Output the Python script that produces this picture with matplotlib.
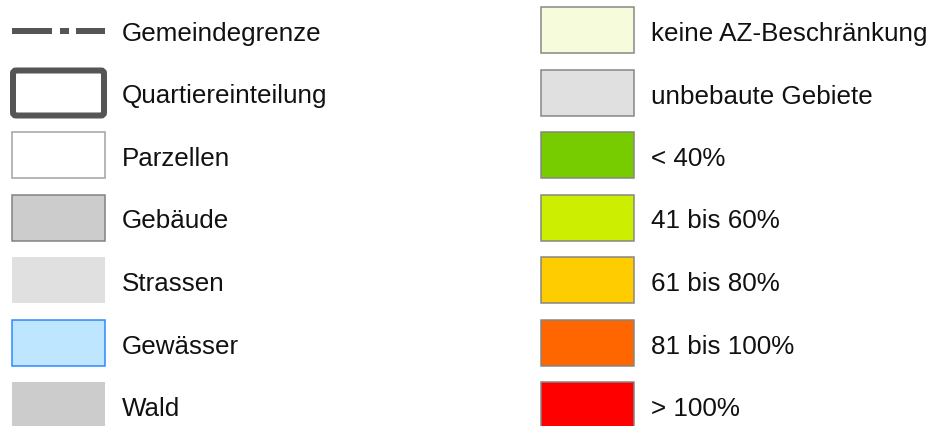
import matplotlib
matplotlib.use("Agg")
import matplotlib.pyplot as plt
from matplotlib.patches import Rectangle, FancyBboxPatch

plt.rcParams["font.family"] = ["Liberation Sans", "DejaVu Sans"]
plt.rcParams["lines.scale_dashes"] = False

# legend entries
left_labels = ["Gemeindegrenze", "Quartiereinteilung", "Parzellen", "Gebäude",
               "Strassen", "Gewässer", "Wald"]
left_fill = [None, "white", "white", "#cccccc", "#e0e0e0", "#bfe6ff", "#cccccc"]
left_edge = ["#555555", "#555555", "#a0a0a0", "#808080", None, "#2b86ff", None]

right_labels = ["keine AZ-Beschränkung", "unbebaute Gebiete", "< 40%", "41 bis 60%",
                "61 bis 80%", "81 bis 100%", "> 100%"]
right_fill = ["#f6fbdc", "#e0e0e0", "#77cc00", "#ccee00", "#ffcc00", "#ff6600", "#ff0000"]

W, H = 936, 426
px = 0.72  # points per pixel at dpi 100

fig = plt.figure(figsize=(W / 100, H / 100), dpi=100)
ax = fig.add_axes([0, 0, 1, 1])
ax.set_xlim(0, W)
ax.set_ylim(H, 0)
ax.axis("off")

top0, step, sh, sw = 7, 62.5, 46, 93
lx, rx = 12, 541
fs = 18.7

for i, lab in enumerate(left_labels):
    y = top0 + i * step
    cy = y + sh / 2
    if i == 0:
        ax.plot([lx, lx + sw], [cy + 0.5, cy + 0.5], color=left_edge[i], lw=6 * px,
                linestyle=(0, (40 * px, 8 * px, 9 * px, 7 * px)),
                solid_capstyle="butt", dash_capstyle="butt")
    elif i == 1:
        ax.add_patch(FancyBboxPatch((lx + 1, y + 1), sw - 2, sh - 1,
                                    boxstyle="round,pad=0,rounding_size=3",
                                    facecolor="white", edgecolor=left_edge[i], lw=6 * px))
    else:
        ax.add_patch(Rectangle((lx, y), sw, sh, facecolor=left_fill[i],
                               edgecolor=left_edge[i] or "none",
                               lw=(1.5 * px if left_edge[i] else 0)))
    ax.text(122, cy + 11, lab, fontsize=fs, va="baseline", ha="left", color="#111111")

for i, lab in enumerate(right_labels):
    y = top0 + i * step
    cy = y + sh / 2
    ax.add_patch(Rectangle((rx, y), sw, sh, facecolor=right_fill[i],
                           edgecolor="#858585", lw=1.5 * px))
    ax.text(651, cy + 11, lab, fontsize=fs, va="baseline", ha="left", color="#111111")

fig.savefig("out.png", dpi=100)
